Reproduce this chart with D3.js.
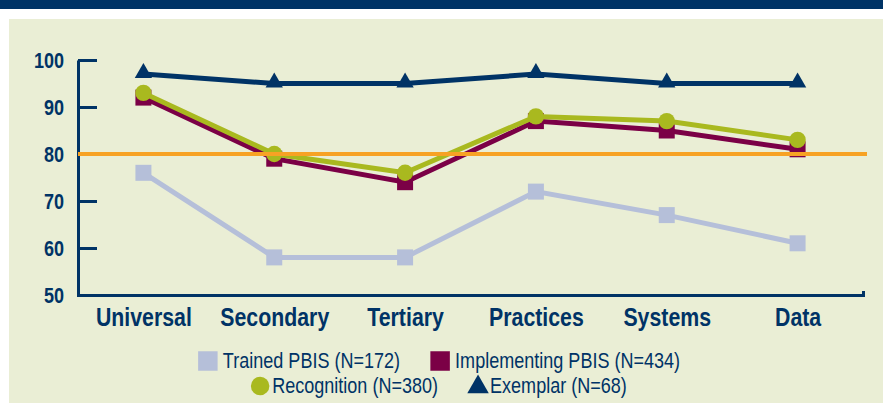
<!DOCTYPE html>
<html>
<head>
<meta charset="utf-8">
<script src="https://cdn.jsdelivr.net/npm/d3@7"></script>
<style>
  body { margin: 0; background: #fff; }
  svg { display: block; }
  .axis text { font-family: "Liberation Sans", Arial, sans-serif; font-weight: bold; fill: #003366; }
  .axis path, .axis line { stroke: #003366; stroke-width: 3; }
  .legend text { font-family: "Liberation Sans", Arial, sans-serif; font-size: 22px; fill: #003366; }
</style>
</head>
<body>
<svg id="chart" width="883" height="403"></svg>
<script>
// categories along the bottom
const categories = ['Universal', 'Secondary', 'Tertiary', 'Practices', 'Systems', 'Data'];
const yTicks = [50, 60, 70, 80, 90, 100];
const benchmark = 80;

// percentages per group
const trained = [76, 58, 58, 72, 67, 61];
const implementing = [92, 79, 74, 87, 85, 81];
const recognition = [93, 80, 76, 88, 87, 83];
const exemplar = [97, 95, 95, 97, 95, 95];

const seriesNames = ['Trained PBIS (N=172)', 'Implementing PBIS (N=434)', 'Recognition (N=380)', 'Exemplar (N=68)'];

// drawing order: bottom to top
const series = [
  { name: seriesNames[0], values: trained, color: '#b5bfd9', shape: 'square' },
  { name: seriesNames[1], values: implementing, color: '#7b0046', shape: 'square' },
  { name: seriesNames[2], values: recognition, color: '#a9b91f', shape: 'circle' },
  { name: seriesNames[3], values: exemplar, color: '#003366', shape: 'triangle' }
];

// no narrow font installed, so squeeze Liberation Sans like Arial Narrow
const narrow = 0.82;

const svg = d3.select('#chart');

// header band and panel background
svg.append('rect').attr('x', 0).attr('y', 0).attr('width', 883).attr('height', 9).attr('fill', '#003366');
svg.append('rect').attr('x', 9).attr('y', 19).attr('width', 874).attr('height', 384).attr('fill', '#eaeed5');

const plotLeft = 78, plotRight = 863, plotTop = 60, plotBottom = 295;

const x = d3.scalePoint().domain(categories).range([plotLeft, plotRight]).padding(0.5);
const y = d3.scaleLinear().domain([50, 100]).range([plotBottom, plotTop]);

// y axis, ticks point into the plot
svg.append('g')
  .attr('class', 'axis axis-y')
  .attr('transform', 'translate(' + plotLeft + ',0)')
  .call(d3.axisLeft(y).tickValues(yTicks).tickSizeInner(-19).tickSizeOuter(0))
  .call(g => g.selectAll('text')
    .style('font-size', '22px')
    .attr('x', 0)
    .attr('transform', 'translate(-14,0) scale(' + narrow + ',1)'));

// x axis with a small upturn at the right end
svg.append('g')
  .attr('class', 'axis axis-x')
  .attr('transform', 'translate(0,' + plotBottom + ')')
  .call(d3.axisBottom(x).tickSize(0).tickSizeOuter(-4).tickPadding(13))
  .call(g => g.selectAll('text')
    .style('font-size', '26px')
    .attr('transform', 'scale(' + narrow + ',1)'));

const line = d3.line()
  .x((d, i) => x(categories[i]))
  .y(d => y(d));

const sym = {
  square: d3.symbol().type(d3.symbolSquare).size(256),
  circle: d3.symbol().type(d3.symbolCircle).size(210),
  triangle: d3.symbol().type(d3.symbolTriangle).size(130)
};

series.forEach(s => {
  const g = svg.append('g').attr('class', 'trend');
  g.append('path')
    .attr('d', line(s.values))
    .attr('fill', 'none')
    .attr('stroke', s.color)
    .attr('stroke-width', 5);
  g.selectAll('path.mark')
    .data(s.values)
    .enter()
    .append('path')
    .attr('class', 'mark')
    .attr('d', sym[s.shape])
    .attr('fill', s.color)
    .attr('transform', (d, i) => 'translate(' + x(categories[i]) + ',' + (y(d) + (s.shape === 'triangle' ? -1 : 0)) + ')');
});

// 80% benchmark line on top
svg.append('line')
  .attr('x1', plotLeft)
  .attr('x2', plotRight + 4)
  .attr('y1', y(benchmark))
  .attr('y2', y(benchmark))
  .attr('stroke', '#f7a224')
  .attr('stroke-width', 4);

// legend, two centred rows
const legendRows = [
  [series[0], series[1]],
  [series[2], series[3]]
];
const legendGap = 30;
// marker centre and text start, per shape
const legendMarker = {
  square: { d: d3.symbol().type(d3.symbolSquare).size(380)(), cx: 10, cy: -7, tx: 25 },
  circle: { d: d3.symbol().type(d3.symbolCircle).size(270)(), cx: 9, cy: -7, tx: 21 },
  triangle: { d: d3.symbol().type(d3.symbolTriangle).size(200)(), cx: 10, cy: -6, tx: 22 }
};
const legend = svg.append('g').attr('class', 'legend');
legendRows.forEach((row, r) => {
  const rowG = legend.append('g');
  let cx = 0;
  row.forEach(s => {
    const m = legendMarker[s.shape];
    const item = rowG.append('g').attr('transform', 'translate(' + cx + ',0)');
    item.append('path')
      .attr('d', m.d)
      .attr('fill', s.color)
      .attr('transform', 'translate(' + m.cx + ',' + m.cy + ')');
    const t = item.append('text')
      .attr('transform', 'translate(' + m.tx + ',0) scale(' + narrow + ',1)')
      .text(s.name);
    cx += m.tx + t.node().getComputedTextLength() * narrow + legendGap;
  });
  const w = cx - legendGap;
  rowG.attr('transform', 'translate(' + (439 - w / 2) + ',' + (r === 0 ? 368 : 393) + ')');
});
</script>
</body>
</html>
